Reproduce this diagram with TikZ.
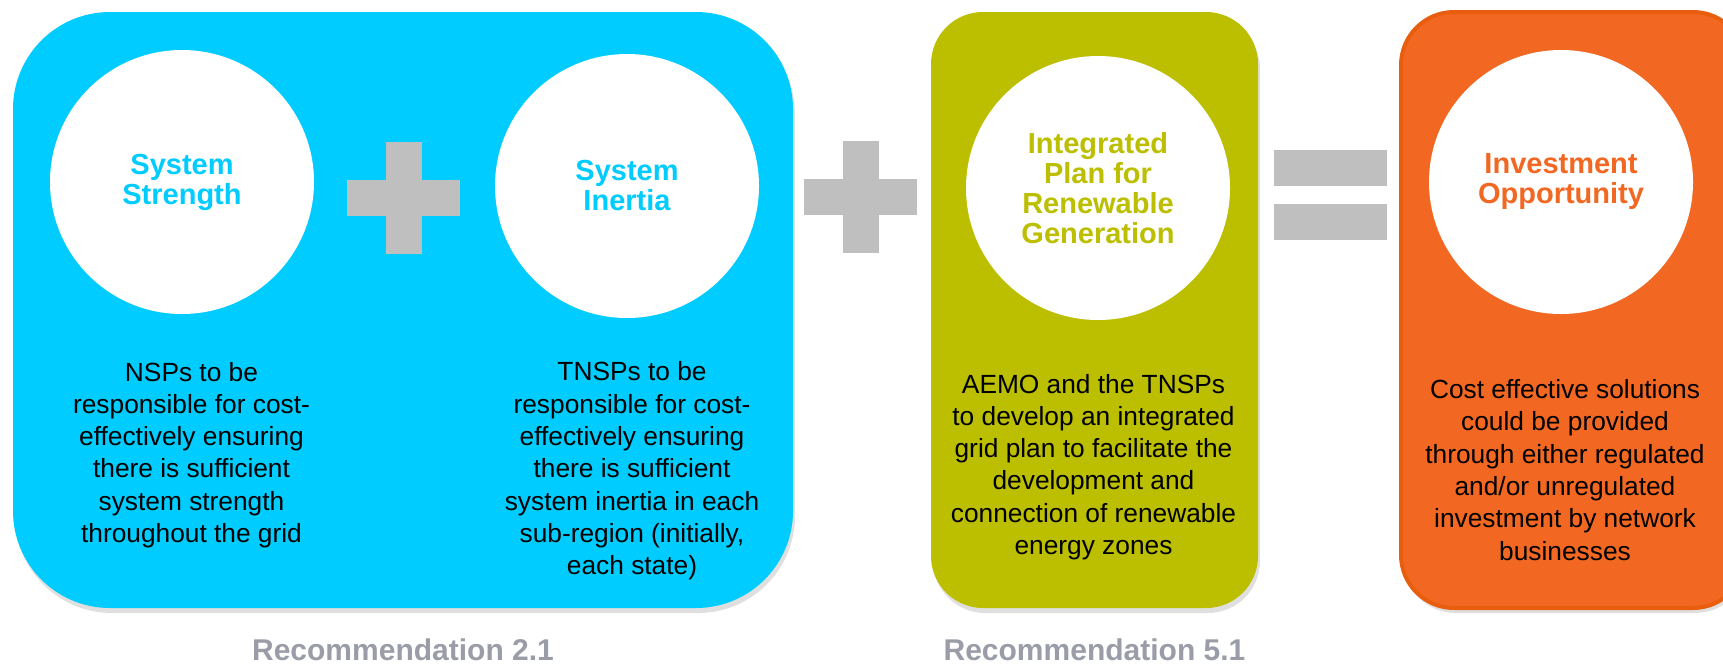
\documentclass[tikz,border=0pt]{standalone}
\usepackage{fontspec}
\setmainfont{Liberation Sans}
\usetikzlibrary{positioning,shadows}

\definecolor{skyblue}{HTML}{00CCFF}
\definecolor{planolive}{HTML}{BCBF00}
\definecolor{investorange}{HTML}{F26822}
\definecolor{orangeedge}{HTML}{E85E0E}
\definecolor{signgrey}{HTML}{BFBFBF}
\definecolor{recgrey}{HTML}{9A9CA7}

\begin{document}
\begin{tikzpicture}[
  x=1pt, y=-1pt,
  panel/.style={rectangle, inner sep=0pt, minimum height=596pt,
    drop shadow={shadow xshift=2pt, shadow yshift=-5pt, opacity=0.25}},
  bubble/.style={circle, fill=white, minimum size=264pt, inner sep=0pt, align=center,
    font=\fontsize{29}{30}\selectfont\bfseries},
  body/.style={align=center, inner sep=0pt, font=\fontsize{26.3}{32.3}\selectfont},
  rec/.style={inner sep=0pt, text=recgrey, font=\fontsize{30}{32}\selectfont\bfseries},
  sign/.style={fill=signgrey}
]
\useasboundingbox (0,0) rectangle (1723,665);
\clip (0,0) rectangle (1723,665);

% Panels
\node[panel, fill=skyblue, rounded corners=97pt, minimum width=780pt] (strengthpanel) at (403,310) {};
\node[panel, fill=planolive, rounded corners=52pt, minimum width=327pt] (planpanel) at (1094.5,310) {};
\node[panel, fill=investorange, draw=orangeedge, line width=4pt, rounded corners=53pt,
  minimum width=345pt] (investpanel) at (1573.5,310) {};

% Circles
\node[bubble, text=skyblue] (strength) at (182,182) {System\\Strength};
\node[bubble, text=skyblue] (inertia) at (627,186) {System\\Inertia};
\node[bubble, text=planolive] (plan) at (1098,188) {Integrated\\Plan for\\Renewable\\Generation};
\node[bubble, text=investorange] (invest) at (1561,182) {Investment\\Opportunity};

% Descriptions
\node[body] (strengthtext) at (191.5,455) {NSPs to be\\responsible for cost-\\effectively ensuring\\there is sufficient\\system strength\\throughout the grid};
\node[body] (inertiatext) at (632,471) {TNSPs to be\\responsible for cost-\\effectively ensuring\\there is sufficient\\system inertia in each\\sub-region (initially,\\each state)};
\node[body] (plantext) at (1093.5,467) {AEMO and the TNSPs\\to develop an integrated\\grid plan to facilitate the\\development and\\connection of renewable\\energy zones};
\node[body] (investtext) at (1565,470) {Cost effective solutions\\could be provided\\through either regulated\\and/or unregulated\\investment by network\\businesses};

% Plus and equals signs
\foreach \cx/\cy in {403.5/198, 860.5/197} {
  \fill[sign] (\cx-56.5,\cy-18) rectangle (\cx+56.5,\cy+18);
  \fill[sign] (\cx-18,\cy-56) rectangle (\cx+18,\cy+56);
}
\fill[sign] (1274,150) rectangle (1387,186);
\fill[sign] (1274,204) rectangle (1387,240);

% Recommendations
\node[rec, below=30pt of strengthpanel] (rec21) {Recommendation 2.1};
\node[rec, below=30pt of planpanel] (rec51) {Recommendation 5.1};

\end{tikzpicture}
\end{document}
